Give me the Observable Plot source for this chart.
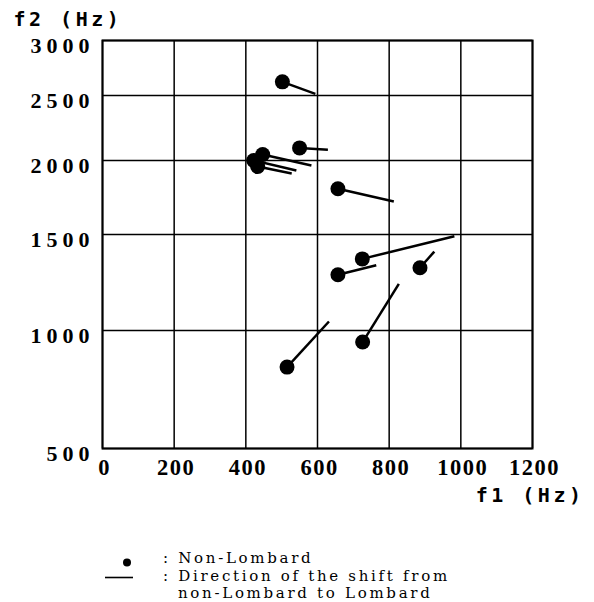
<!DOCTYPE html>
<html>
<head>
<meta charset="utf-8">
<script src="https://cdn.jsdelivr.net/npm/d3@7"></script>
<script src="https://cdn.jsdelivr.net/npm/@observablehq/plot@0.6"></script>
<style>
  html, body { margin: 0; padding: 0; background: #fff; }
  #wrap { position: relative; width: 594px; height: 602px; overflow: hidden; }
  #legend { position: absolute; left: 0; top: 540px; }
</style>
</head>
<body>
<div id="wrap"><div id="chart"></div><div id="legend"></div></div>
<script>
// Tick values
const f1Ticks = [0, 200, 400, 600, 800, 1000, 1200];
const f2Ticks = [500, 1000, 1500, 2000, 2500, 3000];

// Non-Lombard formants (dots)
const nonLombardF1 = [502, 550, 447, 422, 433, 657, 725, 657, 886, 726, 515];
const nonLombardF2 = [2624, 2097, 2046, 2000, 1959, 1809, 1373, 1290, 1327, 951, 845];
// Lombard formants (end of shift lines)
const lombardF1 = [594, 629, 583, 541, 528, 813, 982, 764, 926, 827, 632];
const lombardF2 = [2515, 2082, 1966, 1932, 1912, 1723, 1491, 1340, 1411, 1243, 1047];

// The f2 axis of the original is non-uniform (perceptual-like spacing):
// piecewise mapping of Hz to axis units
const f2Units = [0, 118, 214, 288, 353, 408];
const f2Warp = d3.scaleLinear().domain(f2Ticks).range(f2Units);

const data = nonLombardF1.map((v, i) => ({
  f1: v, f2: f2Warp(nonLombardF2[i]), lf1: lombardF1[i], lf2: f2Warp(lombardF2[i])
}));
const f2TickPos = f2Ticks.map(f2Warp);

const numFont = "Liberation Serif";
const labFont = "DejaVu Sans Mono";

const plot = Plot.plot({
  width: 594,
  height: 520,
  marginLeft: 102,
  marginRight: 62,
  marginTop: 40,
  marginBottom: 72,
  style: { background: "white", color: "black", overflow: "visible" },
  x: { domain: [0, 1200], label: null },
  y: { domain: [f2Units[0], f2Units[f2Units.length - 1]], label: null },
  marks: [
    Plot.gridX(f1Ticks, { stroke: "black", strokeOpacity: 1, strokeWidth: 1.5 }),
    Plot.gridY(f2TickPos, { stroke: "black", strokeOpacity: 1, strokeWidth: 1.5 }),
    Plot.frame({ stroke: "black", strokeWidth: 2 }),
    Plot.link(data, { x1: "f1", y1: "f2", x2: "lf1", y2: "lf2", stroke: "black", strokeWidth: 2.5 }),
    Plot.dot(data, { x: "f1", y: "f2", r: 7.5, fill: "black", stroke: "none" }),
    Plot.axisX(f1Ticks, { tickSize: 0, tickPadding: 11, fontSize: 22.5, fontWeight: "bold", fontFamily: numFont, dx: 2, tickFormat: d => String(d) }),
    Plot.axisY(f2TickPos, { tickSize: 0, tickPadding: 8, fontSize: 22, fontWeight: "bold", fontFamily: numFont, dy: 5,
      tickFormat: v => String(f2Ticks[f2TickPos.indexOf(v)]) }),
    Plot.text(["f2 (Hz)"], { frameAnchor: "top-left", textAnchor: "start", lineAnchor: "middle", dx: -89, dy: -21, fontSize: 20, fontWeight: "bold", fontFamily: labFont }),
    Plot.text(["f1 (Hz)"], { frameAnchor: "bottom-right", textAnchor: "end", lineAnchor: "middle", dx: 52, dy: 47, fontSize: 20, fontWeight: "bold", fontFamily: labFont })
  ]
});
document.getElementById("chart").appendChild(plot);

const svg = d3.select(plot);
svg.selectAll('[aria-label="x-axis tick label"] text').attr("letter-spacing", 1.5);
svg.selectAll('[aria-label="y-axis tick label"] text').attr("letter-spacing", 5);
svg.selectAll('[aria-label="text"] text').attr("letter-spacing", 3.5).attr("xml:space", "preserve");

// Legend
const legendDotLabel = ": Non-Lombard";
const legendLineLabel = [": Direction of the shift from", "non-Lombard to Lombard"];
const lg = d3.select("#legend").append("svg").attr("width", 594).attr("height", 62);
lg.append("circle").attr("cx", 127).attr("cy", 22.5).attr("r", 4).attr("fill", "black");
lg.append("line").attr("x1", 105).attr("x2", 133).attr("y1", 37.5).attr("y2", 37.5).attr("stroke", "black").attr("stroke-width", 1.6);
const legendText = (sel) => sel.attr("font-family", "DejaVu Serif").attr("font-size", 15)
  .attr("letter-spacing", 2.7).attr("fill", "black");
lg.append("text").attr("x", 163).attr("y", 23).text(legendDotLabel).call(legendText);
lg.append("text").attr("x", 163).attr("y", 40.5).text(legendLineLabel[0]).call(legendText);
lg.append("text").attr("x", 178).attr("y", 58).text(legendLineLabel[1]).call(legendText);
</script>
</body>
</html>
